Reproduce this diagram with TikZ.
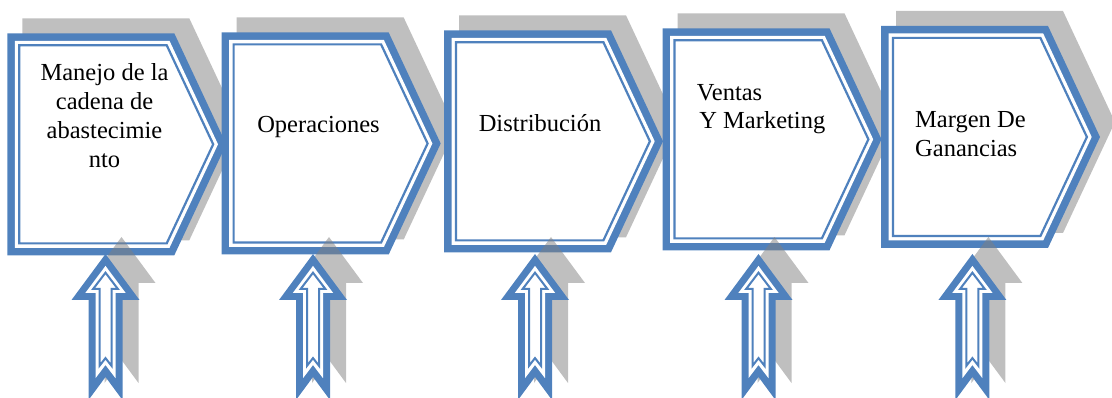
\documentclass[tikz,border=0pt]{standalone}
\usepackage{fontspec}
\setmainfont{Liberation Serif}
\definecolor{accent}{RGB}{79,129,189}
\definecolor{shadowgray}{RGB}{191,191,191}
\begin{document}
\begin{tikzpicture}[x=1pt,y=-1pt,
  % pentagon step: thick outer rule, white gap, thin inner rule
  chevron/.pic={
    \fill[accent] (0,0) -- (167,0) -- (219,111) -- (167,222) -- (0,222) -- cycle;
    \fill[white] (7.5,7.5) -- (162.2,7.5) -- (210.7,111) -- (162.2,214.5) -- (7.5,214.5) -- cycle;
    \draw[accent, line width=2.2pt, line join=miter]
      (11.9,11.9) -- (159.4,11.9) -- (205.9,111) -- (159.4,210.1) -- (11.9,210.1) -- cycle;
  },
  chevronshadow/.pic={
    \fill[shadowgray] (15,-15) -- (182,-15) -- (234,96) -- (182,207) -- (15,207) -- cycle;
  },
  % notched up arrow with the same compound outline
  uparrow/.pic={
    \fill[accent] (0,0) -- (34,46) -- (17,46) -- (17,146) -- (0,123)
      -- (-17,146) -- (-17,46) -- (-34,46) -- cycle;
    \fill[white] (0,11.9) -- (20.2,39) -- (10,39) -- (10,124.2) -- (0,111)
      -- (-10,124.2) -- (-10,39) -- (-20.2,39) -- cycle;
    \draw[accent, line width=2pt, line join=miter]
      (0,18.7) -- (12.4,35) -- (6,35) -- (6,111.8) -- (0,104.1)
      -- (-6,111.8) -- (-6,35) -- (-12.4,35) -- cycle;
  },
  arrowshadow/.pic={
    \fill[black!50, fill opacity=0.5] (16,-17) -- (50,29) -- (33,29) -- (33,129) -- (16,106)
      -- (-1,129) -- (-1,29) -- (-18,29) -- cycle;
  },
  lbl/.style={font=\fontsize{24.5}{29.3}\selectfont, inner sep=0pt, text=black}
]
\useasboundingbox (0,0) rectangle (1112,398);

% shadows behind the steps
\pic at (7.3,33.3) {chevronshadow};
\pic at (221.7,32.5) {chevronshadow};
\pic at (444,30.3) {chevronshadow};
\pic at (662.5,28.3) {chevronshadow};
\pic at (881,26) {chevronshadow};

% the five steps
\pic at (7.3,33.3) {chevron};
\pic at (221.7,32.5) {chevron};
\pic at (444,30.3) {chevron};
\pic at (662.5,28.3) {chevron};
\pic at (881,26) {chevron};

% arrow shadows fall over the step borders
\pic at (105.5,254) {arrowshadow};
\pic at (313,254) {arrowshadow};
\pic at (535,254) {arrowshadow};
\pic at (758.5,254) {arrowshadow};
\pic at (972.4,254) {arrowshadow};

% up arrows feeding each step
\pic at (105.5,254) {uparrow};
\pic at (313,254) {uparrow};
\pic at (535,254) {uparrow};
\pic at (758.5,254) {uparrow};
\pic at (972.4,254) {uparrow};

% step labels (base anchor of a multi-line node sits on its last line)
\node[lbl, align=center, anchor=base] (s1) at (104.5,168) {Manejo de la\\cadena de\\abastecimie\\nto};
\node[lbl, anchor=base] (s2) at (318.5,133) {Operaciones};
\node[lbl, anchor=base] (s3) at (540,132) {Distribución};
\node[lbl, align=left, anchor=base west, font=\fontsize{24.5}{28}\selectfont] (s4) at (696.7,129) {Ventas\\\hspace{2.5pt}Y Marketing};
\node[lbl, align=left, anchor=base west] (s5) at (915,157) {Margen De\\Ganancias};
\end{tikzpicture}
\end{document}
